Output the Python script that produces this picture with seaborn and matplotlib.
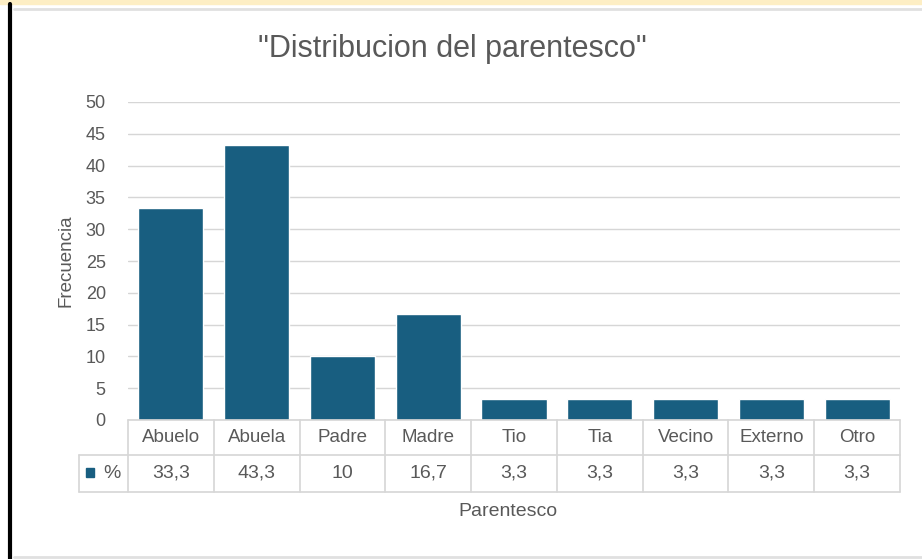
import matplotlib
matplotlib.use('Agg')
import matplotlib.pyplot as plt
import matplotlib.transforms as mtransforms
import seaborn as sns
import pandas as pd

# Data
categorias = ['Abuelo', 'Abuela', 'Padre', 'Madre', 'Tio', 'Tia', 'Vecino', 'Externo', 'Otro']
porcentajes = [33.3, 43.3, 10, 16.7, 3.3, 3.3, 3.3, 3.3, 3.3]
etiquetas_valor = ['33,3', '43,3', '10', '16,7', '3,3', '3,3', '3,3', '3,3', '3,3']
yticks = [0, 5, 10, 15, 20, 25, 30, 35, 40, 45, 50]

df = pd.DataFrame({'Parentesco': categorias, 'Frecuencia': porcentajes})

sns.set_style('white')
plt.rcParams['font.family'] = ['Liberation Sans', 'DejaVu Sans']

bar_color = '#185e80'
text_color = '#595959'
line_color = '#d6d6d6'

fig = plt.figure(figsize=(9.22, 5.59), dpi=100)
ax = fig.add_axes([128 / 922, 1 - 420 / 559, 772 / 922, 318 / 559])

sns.barplot(data=df, x='Parentesco', y='Frecuencia', color=bar_color,
            width=0.76, saturation=1, ax=ax)

ax.set_ylim(0, 50)
ax.set_xlim(-0.5, len(categorias) - 0.5)
ax.set_yticks(yticks)
ax.set_yticklabels([str(t) for t in yticks], fontsize=13, color=text_color)
ax.tick_params(axis='y', length=0, pad=16)
ax.set_xticks([])
ax.set_xlabel('')
ax.set_ylabel('Frecuencia', fontsize=13.5, color=text_color, labelpad=8)
ax.yaxis.grid(True, color=line_color, linewidth=1)
ax.set_axisbelow(True)
for s in ax.spines.values():
    s.set_visible(False)

# Data table under the axis
trans = mtransforms.blended_transform_factory(ax.transData, ax.transAxes)
n = len(categorias)
row1 = -35 / 318
row2 = -72 / 318
key_left = -0.5 - 49 / (772 / n)
lw = 1.2
ax.plot([-0.5, n - 0.5], [0, 0], color=line_color, lw=lw, transform=trans, clip_on=False)
ax.plot([key_left, n - 0.5], [row1, row1], color=line_color, lw=lw, transform=trans, clip_on=False)
ax.plot([key_left, n - 0.5], [row2, row2], color=line_color, lw=lw, transform=trans, clip_on=False)
ax.plot([key_left, key_left], [row1, row2], color=line_color, lw=lw, transform=trans, clip_on=False)
for i in range(n + 1):
    ax.plot([i - 0.5, i - 0.5], [0, row2], color=line_color, lw=lw, transform=trans, clip_on=False)
for i, (c, v) in enumerate(zip(categorias, etiquetas_valor)):
    ax.text(i, row1 / 2, c, ha='center', va='center', fontsize=13.5, color=text_color,
            transform=trans, clip_on=False)
    ax.text(i, (row1 + row2) / 2, v, ha='center', va='center', fontsize=14, color=text_color,
            transform=trans, clip_on=False)

# legend key inside the table
fig.patches.append(plt.Rectangle((86 / 922, 1 - 477 / 559), 8 / 922, 9 / 559,
                                 color=bar_color, transform=fig.transFigure))
fig.text(103 / 922, 1 - 473 / 559, '%', ha='left', va='center', fontsize=14, color=text_color)

fig.text(508 / 922, 1 - 512 / 559, 'Parentesco', ha='center', va='center', fontsize=14, color=text_color)
fig.text(452 / 922, 1 - 49 / 559, '"Distribucion del parentesco"', ha='center', va='center',
         fontsize=22, color=text_color)

# frame
fig.patches.append(plt.Rectangle((0, 1 - 4 / 559), 1, 4 / 559, color='#fdeec4',
                                 transform=fig.transFigure))
fig.lines.append(plt.Line2D([14 / 922, 1], [1 - 9 / 559, 1 - 9 / 559], color='#e0e0e0', lw=2,
                            transform=fig.transFigure))
fig.lines.append(plt.Line2D([14 / 922, 1], [1 - 557 / 559, 1 - 557 / 559], color='#e0e0e0', lw=2,
                            transform=fig.transFigure))
fig.lines.append(plt.Line2D([10 / 922, 10 / 922], [0, 1 - 4 / 559], color='black', lw=3,
                            transform=fig.transFigure))

fig.savefig('out.png', dpi=100)
